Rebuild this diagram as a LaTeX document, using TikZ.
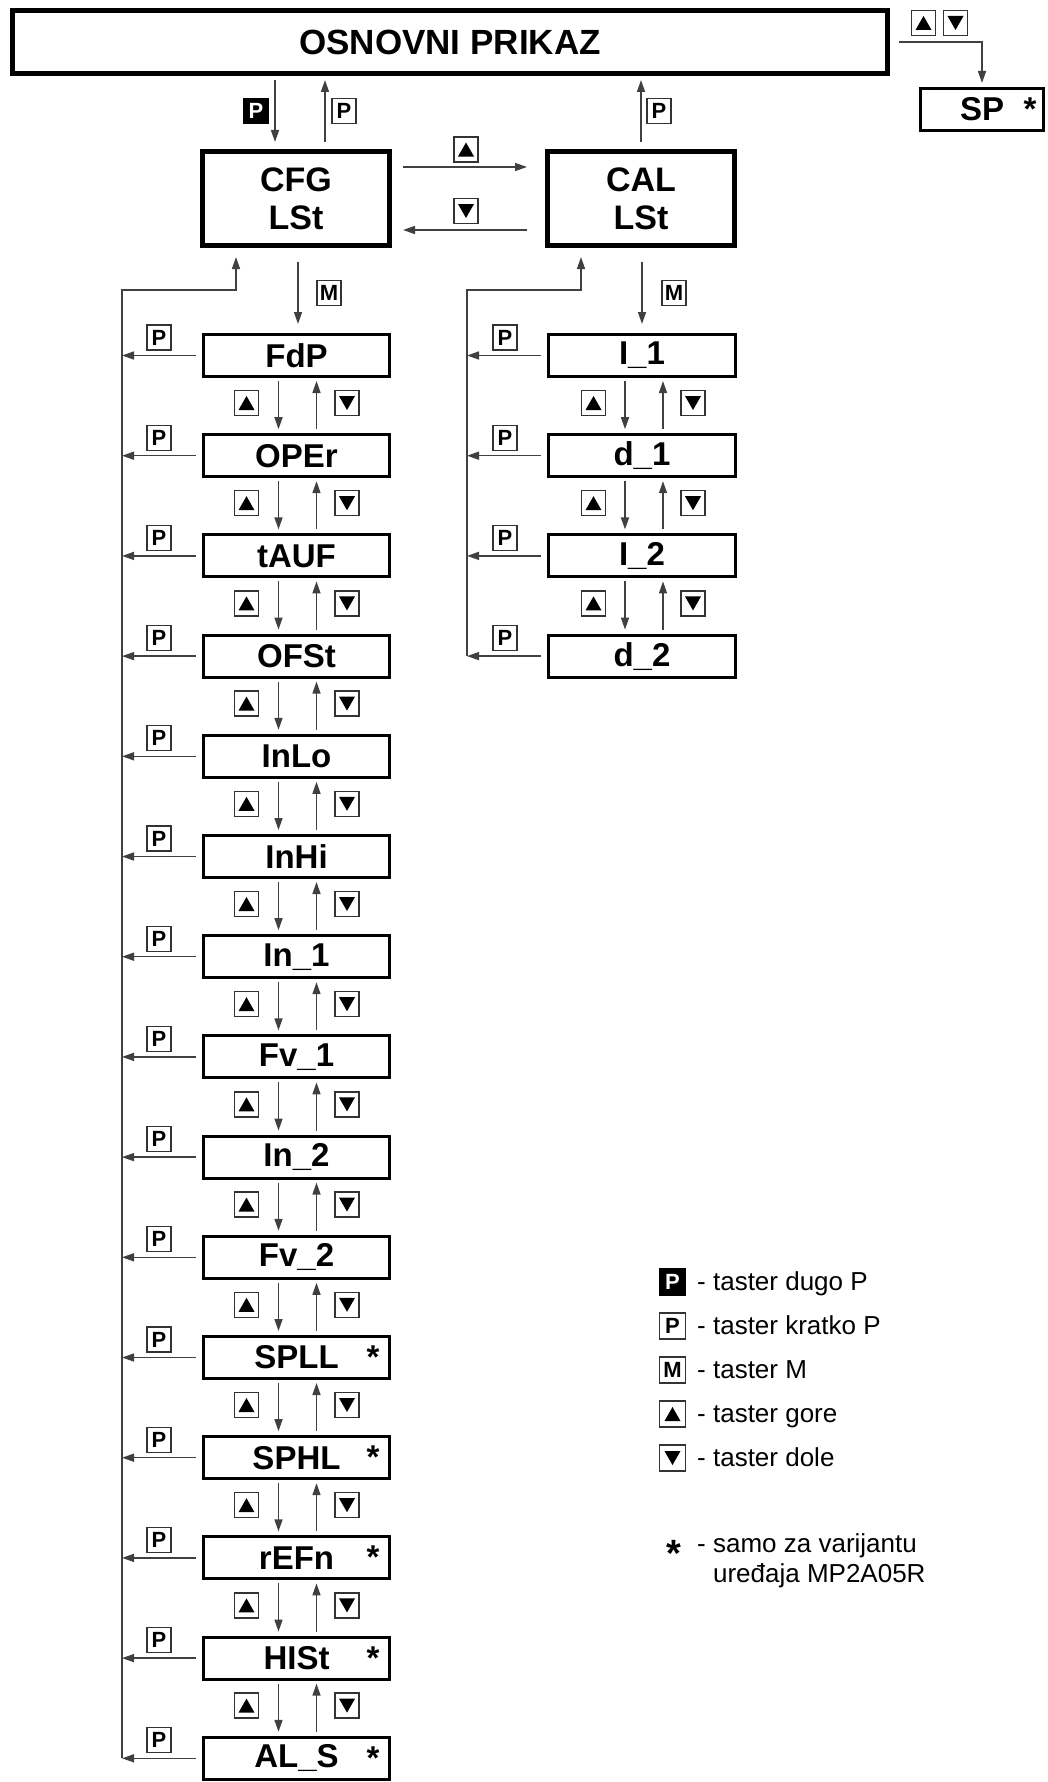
\documentclass[tikz,border=0pt]{standalone}
\usepackage{fontspec}
\setmainfont{Liberation Sans}
\usetikzlibrary{arrows.meta}
\begin{document}
\begin{tikzpicture}[x=1pt,y=-1pt,
  conn/.style={draw=black!75, line width=1.5pt},
  arr/.style={-{Triangle[length=12pt,width=8pt]}},
  bigbox/.style={draw, line width=5pt, inner sep=0pt, align=center},
  itembox/.style={draw, line width=3pt, minimum width=186pt, minimum height=42pt, inner sep=0pt, font=\fontsize{33}{38}\selectfont\bfseries},
  key/.style={draw=black!80, line width=1.3pt, fill=white, minimum width=24pt, minimum height=25pt, inner sep=0pt, font=\fontsize{22}{22}\selectfont\bfseries},
  keyblack/.style={key, fill=black, draw=black, text=white},
  keyup/.style={key, path picture={\fill[black] ([xshift=-8pt,yshift=-7pt]path picture bounding box.center) -- ++(16pt,0pt) -- ++(-8pt,14pt) -- cycle;}},
  keydown/.style={key, path picture={\fill[black] ([xshift=-8pt,yshift=7pt]path picture bounding box.center) -- ++(16pt,0pt) -- ++(-8pt,-14pt) -- cycle;}},
  starmark/.style={font=\fontsize{33}{38}\selectfont\bfseries, anchor=base, inner sep=0pt},
  legend/.style={font=\fontsize{26}{30}\selectfont, anchor=base west, inner sep=0pt}
]
\useasboundingbox (0,0) rectangle (1047,1782);

% top level
\node[bigbox, minimum width=875pt, minimum height=63pt, font=\fontsize{35}{40}\selectfont\bfseries] (osn) at (450,42) {OSNOVNI PRIKAZ};
\node[bigbox, minimum width=187pt, minimum height=94pt, font=\fontsize{34}{38}\selectfont\bfseries] (cfg) at (296,198.5) {CFG\\LSt};
\node[bigbox, minimum width=187pt, minimum height=94pt, font=\fontsize{34}{38}\selectfont\bfseries] (cal) at (641,198.5) {CAL\\LSt};
\node[itembox, minimum width=123pt] (sp) at (982,109.5) {SP};
\node[starmark] (spstar) at (1030,120.5) {*};

% OSNOVNI <-> CFG / CAL
\coordinate (xd) at (275,0);
\coordinate (xu) at (325,0);
\coordinate (xc) at (641,0);
\draw[conn,arr,shorten <=4pt,shorten >=7pt] (osn.south -| xd) -- (cfg.north -| xd);
\draw[conn,arr,shorten <=7pt,shorten >=4pt] (cfg.north -| xu) -- (osn.south -| xu);
\draw[conn,arr,shorten <=7pt,shorten >=4pt] (cal.north -| xc) -- (osn.south -| xc);
\node[keyblack] (kpl) at (256,111) {P};
\node[key] (kp1) at (344,111) {P};
\node[key] (kp2) at (659,111) {P};

% CFG <-> CAL
\coordinate (h1) at (0,167);
\coordinate (h2) at (0,230);
\draw[conn,arr,shorten <=11pt,shorten >=18pt] (cfg.east |- h1) -- (cal.west |- h1);
\draw[conn,arr,shorten <=18pt,shorten >=11pt] (cal.west |- h2) -- (cfg.east |- h2);
\node[keyup] (kh1) at (466,149.5) {};
\node[keydown] (kh2) at (466,211) {};

% OSNOVNI -> SP
\coordinate (spstart) at (899,42);
\draw[conn,arr,shorten >=4pt] (spstart) -- (sp.north |- spstart) -- (sp.north);
\node[keyup] (ksu) at (923.5,23) {};
\node[keydown] (ksd) at (955.5,23) {};

% CFG list
\foreach \t [count=\i from 0] in {FdP,OPEr,tAUF,OFSt,InLo,InHi,In\_1,Fv\_1,In\_2,Fv\_2,SPLL,SPHL,rEFn,HISt,AL\_S} {
  \node[itembox] (c\i) at (296.5,{355.5+100.2*\i}) {\t};
  \node[key] (ckp\i) at (159,{355.5+100.2*\i-18}) {P};
  \coordinate (cl\i) at (122,{355.5+100.2*\i});
  \draw[conn,arr] ([xshift=-6pt]c\i.west) -- (cl\i);
}
\foreach \i in {10,...,14} {
  \node[starmark] (cs\i) at (373,{355.5+100.2*\i+11}) {*};
}
\foreach \i in {0,...,13} {
  \pgfmathtruncatemacro\j{\i+1}
  \draw[conn,arr,shorten <=3pt,shorten >=4pt] ([xshift=-18pt]c\i.south) -- ([xshift=-18pt]c\j.north);
  \draw[conn,arr,shorten <=4pt,shorten >=3pt] ([xshift=20pt]c\j.north) -- ([xshift=20pt]c\i.south);
  \node[keyup] (cku\i) at (246.5,{355.5+100.2*\i+47.5}) {};
  \node[keydown] (ckd\i) at (347,{355.5+100.2*\i+47.5}) {};
}
\coordinate (ctop) at (122,290);
\coordinate (cret) at (236,290);
\draw[conn,arr,shorten >=9pt] (cl14) -- (ctop) -- (cret) -- (cret |- cfg.south);
\coordinate (cm) at (298,0);
\draw[conn,arr,shorten <=14pt,shorten >=9pt] (cfg.south -| cm) -- (c0.north -| cm);
\node[key] (ckm) at (329,293) {M};

% CAL list
\foreach \t [count=\i from 0] in {I\_1,d\_1,I\_2,d\_2} {
  \node[itembox, minimum width=187pt] (a\i) at (642,{355.5+100.2*\i}) {\t};
  \node[key] (akp\i) at (505,{355.5+100.2*\i-18}) {P};
  \coordinate (al\i) at (467,{355.5+100.2*\i});
  \draw[conn,arr] ([xshift=-6pt]a\i.west) -- (al\i);
}
\foreach \i in {0,...,2} {
  \pgfmathtruncatemacro\j{\i+1}
  \draw[conn,arr,shorten <=3pt,shorten >=4pt] ([xshift=-17pt]a\i.south) -- ([xshift=-17pt]a\j.north);
  \draw[conn,arr,shorten <=4pt,shorten >=3pt] ([xshift=21pt]a\j.north) -- ([xshift=21pt]a\i.south);
  \node[keyup] (aku\i) at (593.5,{355.5+100.2*\i+47.5}) {};
  \node[keydown] (akd\i) at (693,{355.5+100.2*\i+47.5}) {};
}
\coordinate (atop) at (467,290);
\coordinate (aret) at (581,290);
\draw[conn,arr,shorten >=9pt] (al3) -- (atop) -- (aret) -- (aret |- cal.south);
\coordinate (am) at (642,0);
\draw[conn,arr,shorten <=14pt,shorten >=9pt] (cal.south -| am) -- (a0.north -| am);
\node[key] (akm) at (674,293) {M};

% legend
\node[keyblack, minimum width=26pt, minimum height=26pt] (lg1) at (672.5,1282) {P};
\node[key, minimum width=26pt, minimum height=26pt] (lg2) at (672.5,1326) {P};
\node[key, minimum width=26pt, minimum height=26pt] (lg3) at (672.5,1370) {M};
\node[keyup, minimum width=26pt, minimum height=26pt] (lg4) at (672.5,1414) {};
\node[keydown, minimum width=26pt, minimum height=26pt] (lg5) at (672.5,1458) {};
\node[legend] (lt1) at (697,1290) {- taster dugo P};
\node[legend] (lt2) at (697,1334) {- taster kratko P};
\node[legend] (lt3) at (697,1378) {- taster M};
\node[legend] (lt4) at (697,1422) {- taster gore};
\node[legend] (lt5) at (697,1466) {- taster dole};
\node[font=\fontsize{38}{38}\selectfont\bfseries, anchor=north, inner sep=0pt] (lstar) at (674,1540) {*};
\node[legend, font=\fontsize{26}{30}\selectfont, align=left] (lt6) at (697,1582) {- samo za varijantu\\\phantom{- }uređaja MP2A05R};
\end{tikzpicture}
\end{document}
